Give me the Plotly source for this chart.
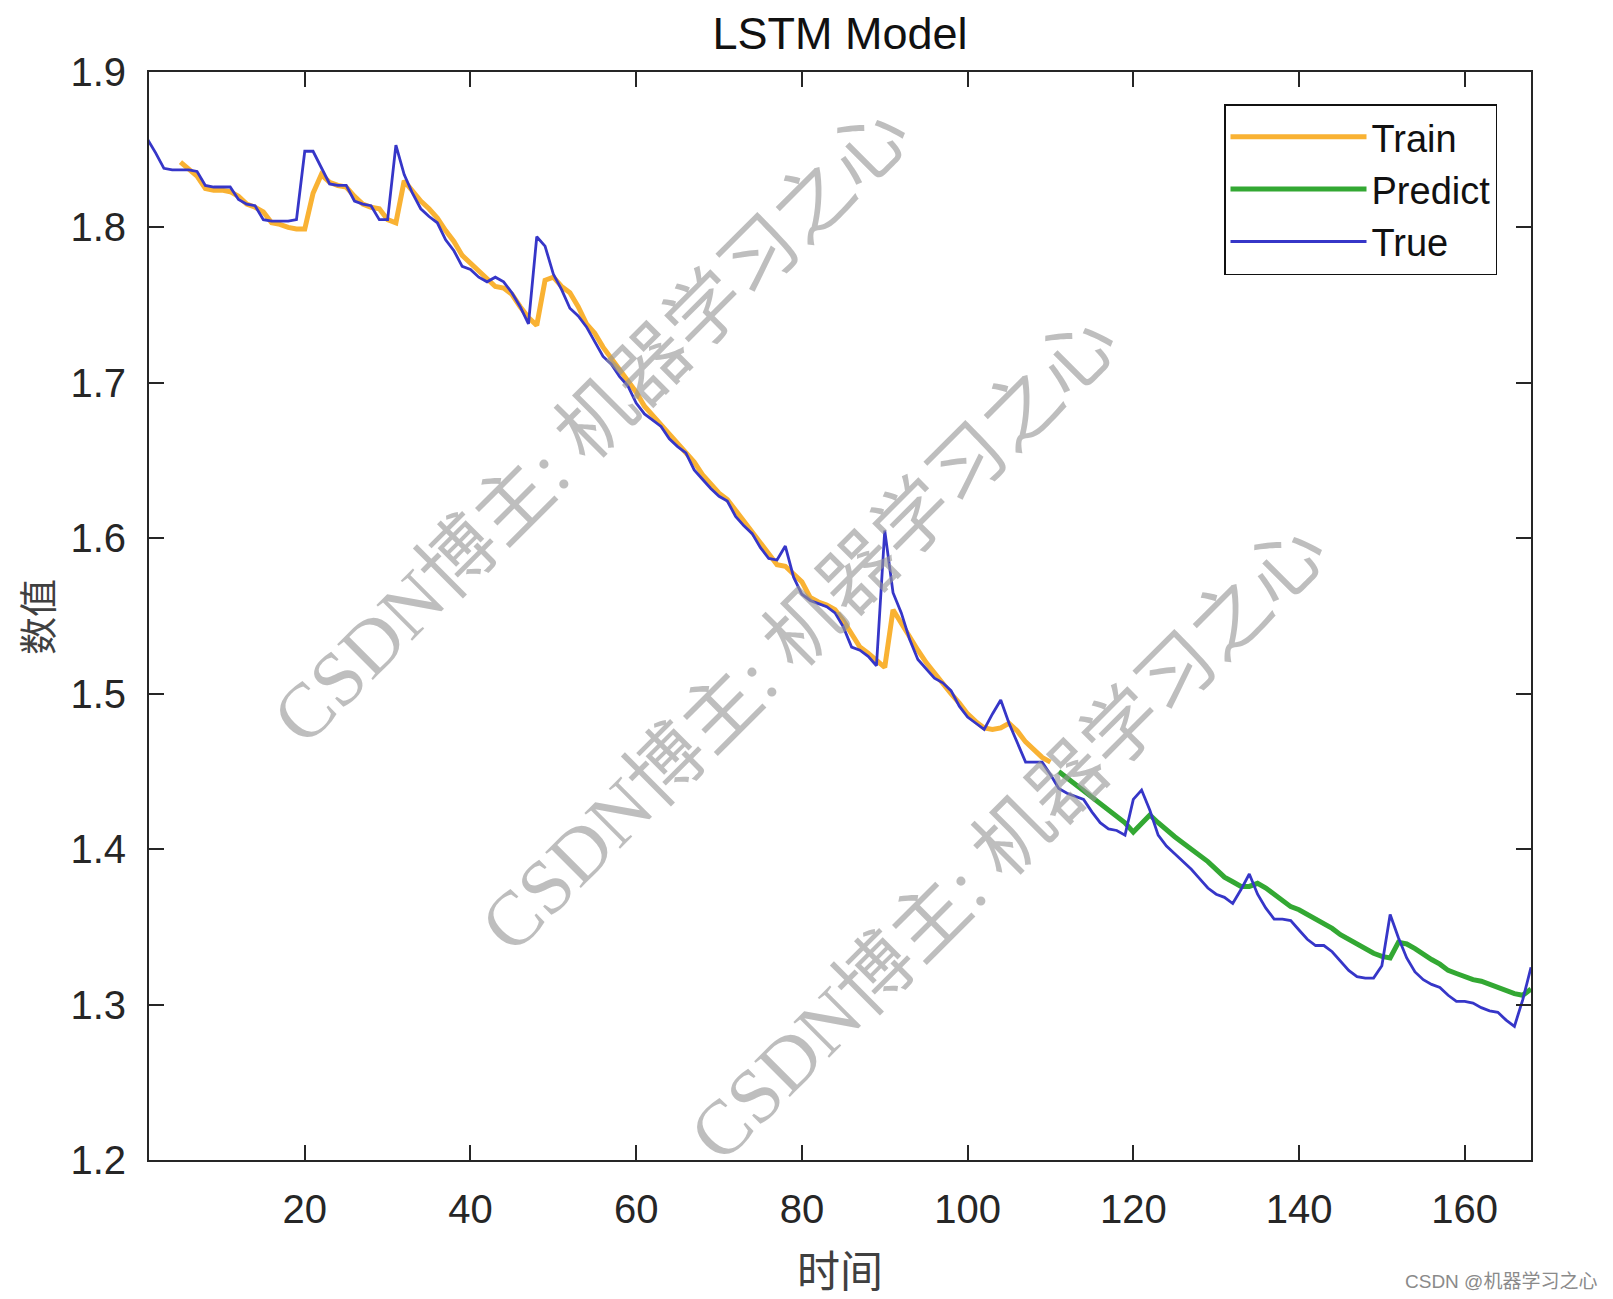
import plotly.graph_objects as go

# ---------------- data ----------------
true_x = list(range(1, 169))
true_y = [
    1.857, 1.848, 1.838, 1.837, 1.837, 1.837, 1.836, 1.827, 1.826, 1.826,
    1.826, 1.818, 1.815, 1.814, 1.805, 1.804, 1.804, 1.804, 1.805, 1.849,
    1.849, 1.839, 1.828, 1.827, 1.827, 1.817, 1.815, 1.814, 1.805, 1.805,
    1.853, 1.834, 1.822, 1.812, 1.807, 1.803, 1.792, 1.785, 1.775, 1.773,
    1.768, 1.765, 1.768, 1.765, 1.758, 1.749, 1.738, 1.794, 1.788, 1.770,
    1.760, 1.748, 1.743, 1.736, 1.726, 1.717, 1.712, 1.704, 1.698, 1.687,
    1.680, 1.676, 1.672, 1.664, 1.659, 1.655, 1.644, 1.638, 1.632, 1.627,
    1.624, 1.614, 1.608, 1.603, 1.594, 1.587, 1.586, 1.595, 1.575, 1.564,
    1.560, 1.558, 1.556, 1.552, 1.543, 1.530, 1.528, 1.524, 1.518, 1.605,
    1.565, 1.552, 1.535, 1.522, 1.516, 1.510, 1.507, 1.502, 1.492, 1.485,
    1.481, 1.477, 1.487, 1.496, 1.481, 1.468, 1.456, 1.456, 1.456, 1.448,
    1.439, 1.436, 1.434, 1.432, 1.424, 1.417, 1.413, 1.412, 1.409, 1.432,
    1.438, 1.425, 1.409, 1.402, 1.397, 1.392, 1.387, 1.381, 1.375, 1.371,
    1.369, 1.365, 1.374, 1.384, 1.371, 1.362, 1.355, 1.355, 1.354, 1.348,
    1.342, 1.338, 1.338, 1.334, 1.328, 1.322, 1.318, 1.317, 1.317, 1.325,
    1.358, 1.343, 1.330, 1.321, 1.316, 1.313, 1.311, 1.306, 1.302, 1.302,
    1.301, 1.298, 1.296, 1.295, 1.290, 1.286, 1.303, 1.324,
]

train_x = list(range(5, 111))
train_y = [
    1.842, 1.838, 1.833, 1.825, 1.824, 1.824, 1.823, 1.820, 1.815, 1.813,
    1.810, 1.803, 1.802, 1.800, 1.799, 1.799, 1.822, 1.834, 1.829, 1.827,
    1.826, 1.820, 1.815, 1.813, 1.812, 1.805, 1.803, 1.830, 1.823, 1.817,
    1.812, 1.806, 1.798, 1.791, 1.782, 1.777, 1.771, 1.766, 1.762, 1.761,
    1.757, 1.749, 1.742, 1.737, 1.766, 1.768, 1.762, 1.758, 1.749, 1.738,
    1.732, 1.723, 1.716, 1.709, 1.702, 1.694, 1.685, 1.679, 1.674, 1.668,
    1.661, 1.656, 1.649, 1.641, 1.635, 1.629, 1.625, 1.618, 1.611, 1.605,
    1.598, 1.590, 1.583, 1.582, 1.577, 1.572, 1.562, 1.559, 1.557, 1.554,
    1.547, 1.538, 1.530, 1.526, 1.522, 1.517, 1.554, 1.545, 1.537, 1.528,
    1.520, 1.513, 1.507, 1.500, 1.494, 1.487, 1.482, 1.478, 1.477, 1.478,
    1.481, 1.476, 1.469, 1.464, 1.459, 1.456,
]

pred_x = list(range(111, 169))
pred_y = [
    1.450, 1.446, 1.442, 1.438, 1.433, 1.429, 1.425, 1.421, 1.417, 1.411,
    1.416, 1.422, 1.417, 1.412, 1.408, 1.404, 1.400, 1.396, 1.392, 1.387,
    1.382, 1.379, 1.376, 1.376, 1.378, 1.375, 1.371, 1.366, 1.363, 1.361,
    1.358, 1.355, 1.352, 1.349, 1.345, 1.342, 1.339, 1.336, 1.333, 1.331,
    1.330, 1.340, 1.339, 1.336, 1.332, 1.329, 1.326, 1.322, 1.320, 1.318,
    1.316, 1.315, 1.313, 1.311, 1.309, 1.307, 1.306, 1.310,
]

x_ticks = [20, 40, 60, 80, 100, 120, 140, 160]
y_ticks = [1.2, 1.3, 1.4, 1.5, 1.6, 1.7, 1.8, 1.9]

title_text = "LSTM Model"
x_title = "时间"
y_title = "数值"
watermark = "CSDN博主: 机器学习之心"
footer = "CSDN @机器学习之心"

# ---------------- figure ----------------
SANS = "Liberation Sans, Arial, Noto Sans CJK SC, sans-serif"
CJK = "Noto Sans CJK SC, sans-serif"
SERIF = "Liberation Serif, DejaVu Serif, Noto Sans CJK SC, serif"

# the page body has an 8px default margin; size the figure so the
# plot area lands at the same screen position as in the reference
OFF = 8
W, H = 1613 - OFF, 1299 - OFF
L, T = 149 - OFF, 72 - OFF
PW, PH = 1382, 1088
R = W - L - PW
B = H - T - PH


def px(sx):
    return (sx - 149) / PW


def py(sy):
    return (1160 - sy) / PH


fig = go.Figure()
fig.add_trace(go.Scatter(x=train_x, y=train_y, mode="lines", name="Train",
                         legendgroup="a",
                         line=dict(color="#F9B233", width=5)))
fig.add_trace(go.Scatter(x=pred_x, y=pred_y, mode="lines", name="Predict",
                         legendgroup="b",
                         line=dict(color="#33A833", width=5)))
fig.add_trace(go.Scatter(x=true_x, y=true_y, mode="lines", name="True",
                         legendgroup="c",
                         line=dict(color="#3636C8", width=2.8)))

axis_common = dict(
    showline=True, linecolor="#262626", linewidth=2, mirror="ticks",
    ticks="inside", ticklen=15, tickwidth=1.5, tickcolor="#262626",
    showgrid=False, zeroline=False,
    tickfont=dict(family=SANS, size=40, color="#262626"),
)

fig.update_xaxes(range=[1.2, 168], tickvals=x_ticks,
                 ticktext=[str(v) for v in x_ticks],
                 ticklabelstandoff=13, **axis_common)
fig.update_yaxes(range=[1.2, 1.9], tickvals=y_ticks,
                 ticktext=["%.1f" % v for v in y_ticks],
                 ticklabelstandoff=13, **axis_common)

annotations = [
    dict(text=x_title, xref="paper", yref="paper", x=px(840), y=py(1268),
         xanchor="center", yanchor="middle", showarrow=False,
         font=dict(family=CJK, size=43, color="#404040")),
    dict(text=y_title, xref="paper", yref="paper", x=px(35), y=py(617),
         xanchor="center", yanchor="middle", showarrow=False, textangle=-90,
         font=dict(family=CJK, size=38, color="#404040")),
    dict(text=footer, xref="paper", yref="paper", x=px(1501), y=py(1281),
         xanchor="center", yanchor="middle", showarrow=False,
         font=dict(family=SANS, size=19, color="#8a8a8a")),
]
for (sx, sy) in [(591, 425), (799, 633), (1008, 842)]:
    annotations.append(dict(
        text=watermark, xref="paper", yref="paper", x=px(sx), y=py(sy),
        xanchor="center", yanchor="middle", showarrow=False, textangle=-45,
        font=dict(family=SERIF, size=77, color="rgba(150,150,150,0.62)")))

fig.update_layout(
    width=W, height=H,
    margin=dict(l=L, r=R, t=T, b=B, autoexpand=False),
    paper_bgcolor="white", plot_bgcolor="white",
    title=dict(text=title_text, x=0.5, xref="paper", xanchor="center",
               y=1 - (33 - OFF) / H, yref="container", yanchor="middle",
               font=dict(family=SANS, size=45, color="#111111")),
    legend=dict(x=px(1497), y=py(104), xanchor="right", yanchor="top",
                bgcolor="white", bordercolor="#111111", borderwidth=1.5,
                font=dict(family=SANS, size=38, color="#111111"),
                itemwidth=136, tracegroupgap=0),
    annotations=annotations,
    showlegend=True,
)

fig.write_html("out.html")
